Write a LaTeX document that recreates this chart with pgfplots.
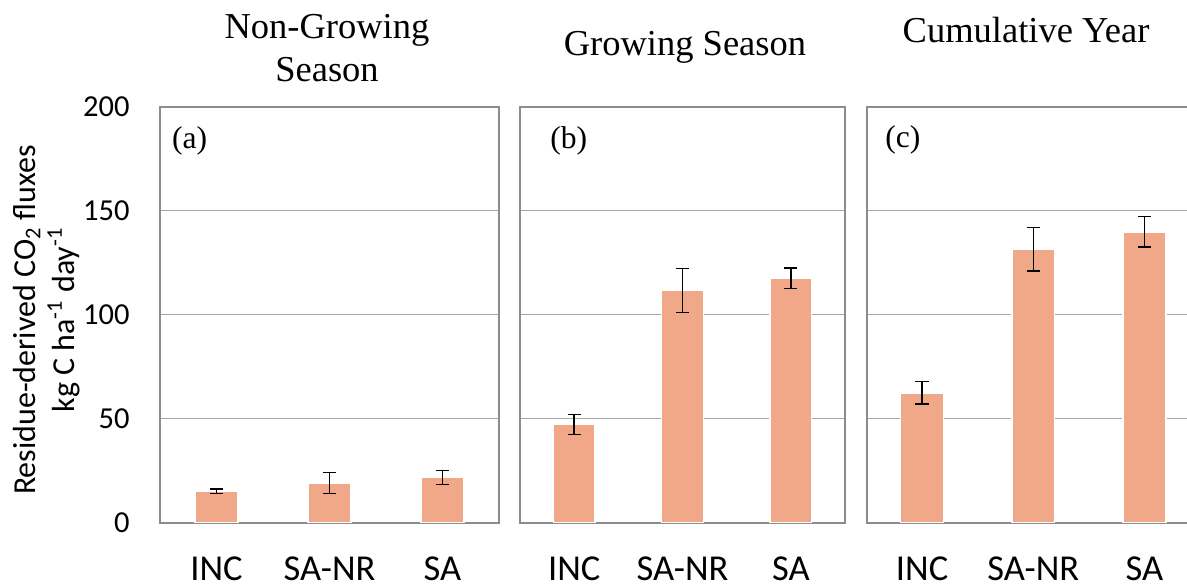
\documentclass[border=0pt]{standalone}
\usepackage{fontspec}
\setmainfont{Carlito}
\newfontfamily\serif{Liberation Serif}
\usepackage{pgfplots}
\pgfplotsset{compat=1.18}
\definecolor{barc}{HTML}{F0A889}
\definecolor{framec}{HTML}{8C8C8C}
\definecolor{gridc}{HTML}{A6A6A6}
\pgfplotsset{panel/.style={
  scale only axis, height=208pt, anchor=south west,
  ymin=0, ymax=200, xmin=-0.5, xmax=2.5,
  ytick={0,50,100,150,200}, xtick={0,1,2}, xticklabels={INC,SA-NR,SA},
  major tick length=0pt, ymajorgrids, grid style={gridc, line width=0.6pt},
  axis line style={framec, line width=1pt},
  xticklabel style={font=\fontsize{18.25}{21}\selectfont, anchor=base, inner sep=0pt, yshift=-29pt},
  yticklabel style={font=\fontsize{15.25}{18}\selectfont, anchor=east, inner sep=0pt, xshift=-15pt},
  /pgf/number format/assume math mode=true,
}}
\pgfplotsset{bars/.style={ybar, bar width=0.385, fill=barc, draw=white, line width=0.8pt,
  error bars/.cd, y dir=both, y explicit,
  error bar style={black, line width=0.7pt},
  error mark options={rotate=90, mark size=3.3pt, black, line width=0.7pt}}}
\begin{document}
\begin{tikzpicture}
\path[use as bounding box] (0,0) rectangle (593.5pt,293pt);
% panel a
\begin{axis}[panel, at={(80pt,31.75pt)}, width=169.5pt,
  ylabel={Residue-derived CO\textsubscript{2} fluxes\\kg C ha\textsuperscript{-1} day\textsuperscript{-1}},
  ylabel style={at={(axis description cs:-0.335,0.487)}, anchor=center, align=center, font=\fontsize{16}{19.5}\selectfont}]
\addplot[bars] coordinates {(0,15) +- (0,1.1) (1,19) +- (0,5) (2,21.7) +- (0,3.3)};
\end{axis}
% panel b
\begin{axis}[panel, at={(260pt,31.75pt)}, width=162.5pt, yticklabels={}]
\addplot[bars] coordinates {(0,47.2) +- (0,4.8) (1,111.6) +- (0,10.5) (2,117.5) +- (0,4.9)};
\end{axis}
% panel c
\begin{axis}[panel, at={(433.25pt,31.75pt)}, width=166.75pt, yticklabels={}]
\addplot[bars] coordinates {(0,62.3) +- (0,5.4) (1,131.4) +- (0,10.5) (2,139.8) +- (0,7.3)};
\end{axis}
% titles
\node[font=\serif\fontsize{18.25}{21}\selectfont, anchor=base, inner sep=0pt] at (163.5pt,273.85pt) {Non-Growing};
\node[font=\serif\fontsize{18.25}{21}\selectfont, anchor=base, inner sep=0pt] at (163.5pt,252.15pt) {Season};
\node[font=\serif\fontsize{18.25}{21}\selectfont, anchor=base, inner sep=0pt] at (342.5pt,265.5pt) {Growing Season};
\node[font=\serif\fontsize{18.25}{21}\selectfont, anchor=base, inner sep=0pt] at (513pt,272pt) {Cumulative Year};
% panel letters
\node[font=\serif\fontsize{15.8}{18}\selectfont, anchor=base west, inner sep=0pt] at (85.85pt,219pt) {(a)};
\node[font=\serif\fontsize{15.8}{18}\selectfont, anchor=base west, inner sep=0pt] at (275pt,218.75pt) {(b)};
\node[font=\serif\fontsize{15.8}{18}\selectfont, anchor=base west, inner sep=0pt] at (442.5pt,219.5pt) {(c)};
\end{tikzpicture}
\end{document}
